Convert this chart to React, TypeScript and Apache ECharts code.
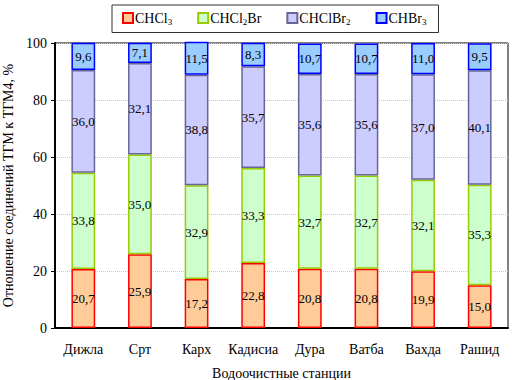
import React, { useEffect, useRef } from "react";
import * as echarts from "echarts";

const categories = ["Дижла", "Срт", "Карх", "Кадисиа", "Дура", "Ватба", "Вахда", "Рашид"];
const chcl3 = [20.7, 25.9, 17.2, 22.8, 20.8, 20.8, 19.9, 15.0];
const chcl2br = [33.8, 35.0, 32.9, 33.3, 32.7, 32.7, 32.1, 35.3];
const chclbr2 = [36.0, 32.1, 38.8, 35.7, 35.6, 35.6, 37.0, 40.1];
const chbr3 = [9.6, 7.1, 11.5, 8.3, 10.7, 10.7, 11.0, 9.5];
const seriesNames = ["CHCl3", "CHCl2Br", "CHClBr2", "CHBr3"];
const legendLabels: Record<string, string> = {
  CHCl3: "CHCl{sub|3}",
  CHCl2Br: "CHCl{sub|2}Br",
  CHClBr2: "CHClBr{sub|2}",
  CHBr3: "CHBr{sub|3}",
};

const FONT = "Liberation Serif";

export default function App() {
  const ref = useRef<HTMLDivElement>(null);
  useEffect(() => {
    document.body.style.margin = "0";
    if (!ref.current) return;
    const chart = echarts.init(ref.current, undefined, { renderer: "svg" });
    const styles = [
      { color: "#FFCC99", borderColor: "#FF0000" },
      { color: "#CCFFCC", borderColor: "#99CC00" },
      { color: "#CCCCFF", borderColor: "#666699" },
      { color: "#99CCFF", borderColor: "#0000FF" },
    ];
    const datas = [chcl3, chcl2br, chclbr2, chbr3];
    chart.setOption({
      animation: false,
      textStyle: { fontFamily: FONT },
      legend: {
        top: 5,
        left: 112,
        data: seriesNames,
        icon: "rect",
        itemWidth: 10,
        itemHeight: 10,
        itemGap: 25,
        borderColor: "#333",
        borderWidth: 1,
        padding: [6, 12, 6, 10],
        formatter: (n: string) => legendLabels[n] || n,
        textStyle: {
          fontFamily: FONT,
          fontSize: 14,
          color: "#000",
          padding: [0, 0, 0, -3],
          rich: {
            sub: { fontFamily: FONT, fontSize: 9, verticalAlign: "bottom", padding: [8, 0, 0, 0], color: "#000" },
          },
        },
      },
      grid: {
        left: 55,
        right: 8,
        top: 43,
        bottom: 52,
        show: true,
        borderColor: "#000",
        borderWidth: 1,
        containLabel: false,
        outerBoundsMode: "none",
      },
      xAxis: {
        type: "category",
        data: categories,
        name: "Водоочистные станции",
        nameLocation: "middle",
        nameGap: 38,
        nameTextStyle: { fontFamily: FONT, fontSize: 14, color: "#000" },
        axisLine: { lineStyle: { color: "#000", width: 2 } },
        axisTick: { show: false },
        axisLabel: { fontFamily: FONT, fontSize: 14, color: "#000", margin: 14, interval: 0 },
      },
      yAxis: {
        type: "value",
        min: 0,
        max: 100,
        interval: 20,
        name: "Отношение соединений ТГМ к ТГМ4, %",
        nameLocation: "middle",
        nameGap: 40,
        nameTextStyle: { fontFamily: FONT, fontSize: 14, color: "#000" },
        axisLine: { show: true, lineStyle: { color: "#000", width: 2 } },
        axisTick: { show: true, length: 4, lineStyle: { color: "#000", width: 1 } },
        axisLabel: { fontFamily: FONT, fontSize: 14, color: "#000", margin: 8 },
        splitLine: { lineStyle: { color: "#C8C8C8", type: "dotted", width: 1 } },
      },
      series: seriesNames.map((name, i) => ({
        name,
        type: "bar",
        stack: "total",
        barWidth: "42%",
        clip: false,
        data: datas[i],
        itemStyle: { color: styles[i].color, borderColor: styles[i].borderColor, borderWidth: 1.5 },
        label: {
          show: true,
          position: "inside",
          fontFamily: FONT,
          fontSize: 13,
          color: "#000",
          formatter: (p: any) => Number(p.value).toFixed(1).replace(".", ","),
        },
      })),
    });
    return () => chart.dispose();
  }, []);
  return <div ref={ref} style={{ width: 516, height: 380 }} />;
}
